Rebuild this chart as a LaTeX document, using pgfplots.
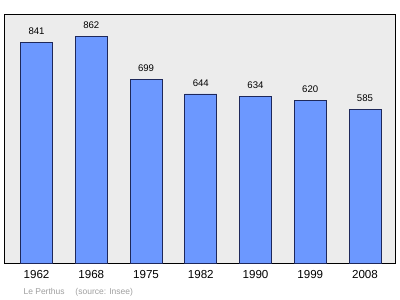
\documentclass[border=0pt]{standalone}
\usepackage{pgfplots}
\pgfplotsset{compat=1.18}
\usepackage{fontspec}
\setmainfont{Liberation Sans}
\definecolor{barblue}{RGB}{108,152,255}
\definecolor{bgray}{RGB}{236,236,236}
\definecolor{edgeblue}{RGB}{30,40,90}
\begin{document}
\begin{tikzpicture}
\path (0pt,0pt) rectangle (400pt,299pt);
\begin{axis}[
  at={(4pt,36pt)}, anchor=south west,
  width=391pt, height=249pt, scale only axis,
  xmin=-0.594, xmax=6.548, ymin=0, ymax=948,
  axis background/.style={fill=bgray},
  axis line style={black, line width=0.8pt},
  xtick={0,...,6},
  xticklabels={1962,1968,1975,1982,1990,1999,2008},
  ytick=\empty,
  major tick length=0pt,
  xticklabel style={font=\fontsize{11.6}{14}\selectfont, yshift=-4pt},
  /pgf/number format/assume math mode=true,
  ybar, bar width=32pt,
  nodes near coords,
  every node near coord/.append style={font=\fontsize{9.6}{11}\selectfont, yshift=4pt},
  clip=false,
]
\addplot[fill=barblue, draw=edgeblue, line width=0.6pt] coordinates {
(0,841) (1,862) (2,699) (3,644) (4,634) (5,620) (6,585)};
\end{axis}
\node[anchor=west, text=gray!75, font=\fontsize{8.5}{10}\selectfont] at (20pt,7pt) {Le Perthus\quad\ (source: Insee)};
\end{tikzpicture}
\end{document}
